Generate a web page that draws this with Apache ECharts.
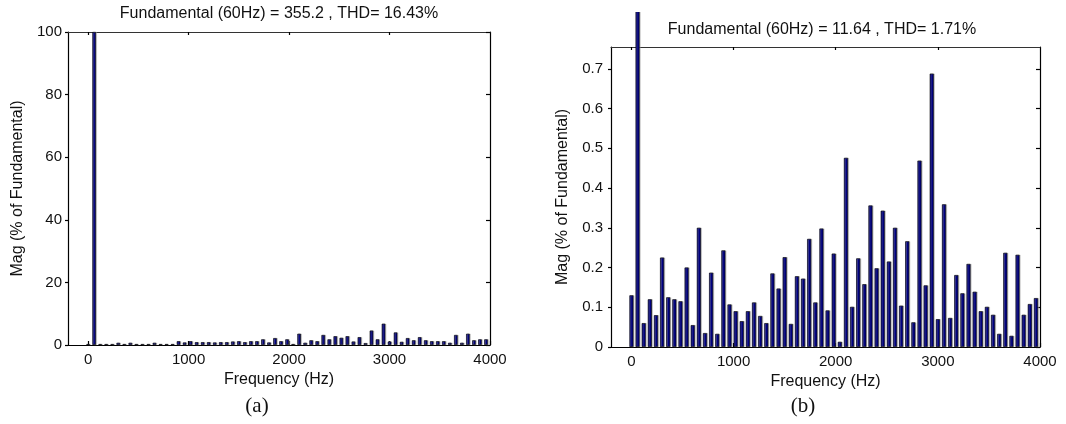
<!DOCTYPE html>
<html>
<head>
<meta charset="utf-8">
<script src="https://cdn.jsdelivr.net/npm/echarts@6/dist/echarts.min.js"></script>
<style>
    body{ margin:0; background:#fff; }
    #chart_a{ position:absolute; left:0; top:0; width:533px; height:424px; }
    #chart_b{ position:absolute; left:533px; top:12px; width:533px; height:412px; }
</style>
</head>
<body>
<div id="chart_a"></div>
<div id="chart_b"></div>
<script>
    // harmonic frequencies (Hz)
    var freqs = [0, 60, 120, 180, 240, 300, 360, 420, 480, 540, 600, 660, 720, 780, 840, 900, 960, 1020,
        1080, 1140, 1200, 1260, 1320, 1380, 1440, 1500, 1560, 1620, 1680, 1740, 1800, 1860, 1920, 1980,
        2040, 2100, 2160, 2220, 2280, 2340, 2400, 2460, 2520, 2580, 2640, 2700, 2760, 2820, 2880, 2940,
        3000, 3060, 3120, 3180, 3240, 3300, 3360, 3420, 3480, 3540, 3600, 3660, 3720, 3780, 3840, 3900, 3960];
    // (a) magnitude, % of fundamental
    var magA = [0.3, 100, 0.3, 0.3, 0.3, 0.7, 0.3, 0.7, 0.3, 0.3, 0.3, 0.7, 0.3, 0.3, 0.3, 1.2, 0.8, 1.2,
        0.9, 0.9, 0.9, 0.8, 0.9, 0.9, 1.1, 1.2, 0.9, 1.2, 1.2, 1.8, 0.8, 2.2, 1.2, 1.8,
        0.3, 3.6, 0.7, 1.5, 1.2, 3.2, 1.8, 2.8, 2.3, 2.8, 1.1, 2.5, 0.6, 4.6, 1.8, 6.8,
        1.1, 4.0, 1.0, 2.2, 1.5, 2.5, 1.5, 1.2, 1.2, 1.2, 0.7, 3.2, 0.7, 3.6, 1.5, 1.8, 1.8];
    // (b) magnitude, % of fundamental
    var magB = [0.13, 100, 0.06, 0.12, 0.08, 0.225, 0.125, 0.12, 0.115, 0.2, 0.055, 0.3, 0.035, 0.187, 0.033, 0.243, 0.107, 0.09,
        0.065, 0.09, 0.112, 0.078, 0.06, 0.185, 0.147, 0.226, 0.058, 0.178, 0.172, 0.272, 0.112, 0.298, 0.092, 0.235,
        0.013, 0.476, 0.101, 0.223, 0.158, 0.356, 0.198, 0.343, 0.215, 0.3, 0.104, 0.266, 0.062, 0.469, 0.155, 0.688,
        0.07, 0.359, 0.073, 0.181, 0.135, 0.209, 0.139, 0.09, 0.101, 0.081, 0.033, 0.237, 0.028, 0.232, 0.081, 0.108, 0.123];

    var xTicks = [0, 1000, 2000, 3000, 4000];
    var xTopTicks = [0, 1000, 2000, 3000];
    var yTicksA = [0, 20, 40, 60, 80, 100];
    var yTicksB = [0, 0.1, 0.2, 0.3, 0.4, 0.5, 0.6, 0.7];

    var titleA = 'Fundamental (60Hz) = 355.2 , THD= 16.43%';
    var titleB = 'Fundamental (60Hz) = 11.64 , THD= 1.71%';

    var FONT = 'Liberation Sans';
    var lineStyle = {color: '#000', width: 1.2};

    function pairs(xs, ys){
        var out = [];
        for (var i = 0; i < xs.length; i++) out.push([xs[i], ys[i]]);
        return out;
    }

    function plain(v){ return String(v); }

    function buildOption(cfg){
        return {
            backgroundColor: '#fff',
            animation: false,
            title: [
                {
                    text: cfg.title, left: cfg.titleX, top: cfg.titleY, textAlign: 'center', padding: 0,
                    textStyle: {fontFamily: FONT, fontSize: 16, fontWeight: 'normal', color: '#111'}
                },
                {
                    text: cfg.tag, left: cfg.tagX, top: cfg.tagY, textAlign: 'center', padding: 0,
                    textStyle: {fontFamily: 'Liberation Serif', fontSize: 21, fontWeight: 'normal', color: '#111'}
                }
            ],
            grid: {left: cfg.grid[0], top: cfg.grid[1], width: cfg.grid[2], height: cfg.grid[3]},
            xAxis: [
                {
                    type: 'value', position: 'bottom', min: -200, max: 4000,
                    name: 'Frequency (Hz)', nameLocation: 'middle', nameGap: cfg.xNameGap,
                    nameTextStyle: {fontFamily: FONT, fontSize: 16, color: '#111'},
                    axisLine: {show: true, onZero: false, lineStyle: lineStyle},
                    axisTick: {show: true, inside: true, length: 4, customValues: xTicks, lineStyle: lineStyle},
                    axisLabel: {customValues: xTicks, formatter: plain, margin: 7, fontFamily: FONT, fontSize: 15, color: '#111'},
                    splitLine: {show: false}
                },
                {
                    type: 'value', position: 'top', min: -200, max: 4000,
                    axisLine: {show: true, onZero: false, lineStyle: {color: '#333', width: 1}},
                    axisTick: {show: true, inside: true, length: 3, customValues: xTopTicks, lineStyle: lineStyle},
                    axisLabel: {show: false},
                    splitLine: {show: false}
                }
            ],
            yAxis: [
                {
                    type: 'value', position: 'left', min: 0, max: cfg.yMax,
                    name: 'Mag (% of Fundamental)', nameLocation: 'middle', nameGap: cfg.yNameGap,
                    nameTextStyle: {fontFamily: FONT, fontSize: 16, color: '#111'},
                    axisLine: {show: true, onZero: false, lineStyle: lineStyle},
                    axisTick: {show: true, inside: false, length: 3, customValues: cfg.yTicks, lineStyle: lineStyle},
                    axisLabel: {customValues: cfg.yTicks, formatter: plain, margin: cfg.yLabelMargin, fontFamily: FONT, fontSize: 15, color: '#111'},
                    splitLine: {show: false}
                },
                {
                    type: 'value', position: 'right', min: 0, max: cfg.yMax,
                    axisLine: {show: true, onZero: false, lineStyle: lineStyle},
                    axisTick: {show: true, inside: true, length: 4, customValues: cfg.yTicks, lineStyle: lineStyle},
                    axisLabel: {show: false},
                    splitLine: {show: false}
                }
            ],
            series: [
                {
                    type: 'bar',
                    xAxisIndex: 0,
                    yAxisIndex: 0,
                    data: pairs(freqs, cfg.mags),
                    barWidth: cfg.barWidth,
                    clip: false,
                    itemStyle: {
                        color: '#000080',
                        borderColor: '#000',
                        borderWidth: 0.6,
                        shadowColor: 'rgba(150,150,150,0.6)',
                        shadowOffsetX: 1,
                        shadowBlur: 0
                    }
                }
            ]
        };
    }

    var chartA = echarts.init(document.getElementById('chart_a'));
    chartA.setOption(buildOption({
        title: titleA, titleX: 279, titleY: 6,
        tag: '(a)', tagX: 257, tagY: 396,
        grid: [68, 32, 422, 313],
        yMax: 100, yTicks: yTicksA, yLabelMargin: 6,
        xNameGap: 25, yNameGap: 42,
        mags: magA, barWidth: 3.5
    }));

    var chartB = echarts.init(document.getElementById('chart_b'));
    chartB.setOption(buildOption({
        title: titleB, titleX: 289, titleY: 10,
        tag: '(b)', tagX: 270, tagY: 384,
        grid: [78, 35, 429, 300],
        yMax: 0.755, yTicks: yTicksB, yLabelMargin: 8,
        xNameGap: 23, yNameGap: 40,
        mags: magB, barWidth: 4
    }));
</script>
</body>
</html>
